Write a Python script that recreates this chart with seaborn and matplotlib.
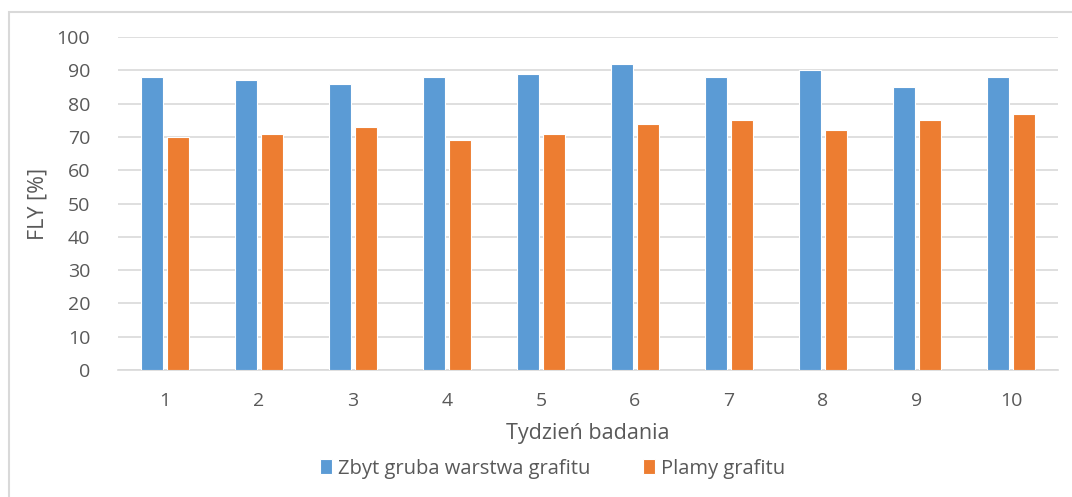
import pandas as pd
import matplotlib
matplotlib.use('Agg')
import matplotlib.pyplot as plt
import seaborn as sns
from matplotlib.patches import Rectangle

weeks = ['1', '2', '3', '4', '5', '6', '7', '8', '9', '10']
series_names = ['Zbyt gruba warstwa grafitu', 'Plamy grafitu']
thick_layer = [88, 87, 86, 88, 89, 92, 88, 90, 85, 88]
graphite_spots = [70, 71, 73, 69, 71, 74, 75, 72, 75, 77]
colors = ['#5B9BD5', '#ED7D31']
yticks = [0, 10, 20, 30, 40, 50, 60, 70, 80, 90, 100]

df = pd.DataFrame({
    'week': weeks * 2,
    'value': thick_layer + graphite_spots,
    'series': [series_names[0]] * len(weeks) + [series_names[1]] * len(weeks),
})

sns.set_style('white')
plt.rcParams['font.family'] = ['Open Sans', 'DejaVu Sans']
text_color = '#595959'

fig = plt.figure(figsize=(10.72, 4.97), dpi=100)
ax = fig.add_axes([0.110, 0.2555, 0.877, 0.670])

sns.barplot(data=df, x='week', y='value', hue='series', order=weeks,
            hue_order=series_names, palette=colors, saturation=1,
            width=0.56, gap=0.16, edgecolor='white', linewidth=0.8,
            ax=ax, zorder=3)

ax.set_ylim(0, 100)
ax.set_xlim(-0.5, len(weeks) - 0.5)
ax.set_yticks(yticks)
ax.yaxis.grid(True, color='#D9D9D9', linewidth=1.2, zorder=0)
ax.set_axisbelow(True)
for s in ['top', 'right', 'left']:
    ax.spines[s].set_visible(False)
ax.spines['bottom'].set_color('#D9D9D9')
ax.spines['bottom'].set_linewidth(1.2)
ax.tick_params(axis='both', length=0, labelsize=14, colors=text_color)
ax.tick_params(axis='x', pad=16)
ax.tick_params(axis='y', pad=20)

ax.set_xlabel('Tydzień badania', fontsize=15.5, color=text_color, labelpad=9)
ax.set_ylabel('FLY [%]', fontsize=15.5, color=text_color, labelpad=6)

ax.legend(loc='upper center', bbox_to_anchor=(0.462, -0.212), ncol=2,
          frameon=False, fontsize=14.5, labelcolor=text_color,
          handlelength=0.6, handleheight=0.8, handletextpad=0.3,
          columnspacing=2.6)

fig.patches.append(Rectangle((9 / 1072, -0.1), 1.2, 1 - 12 / 497 + 0.1,
                             transform=fig.transFigure, fill=False,
                             edgecolor='#D9D9D9', linewidth=1.5))

plt.savefig('out.png', dpi=100)
